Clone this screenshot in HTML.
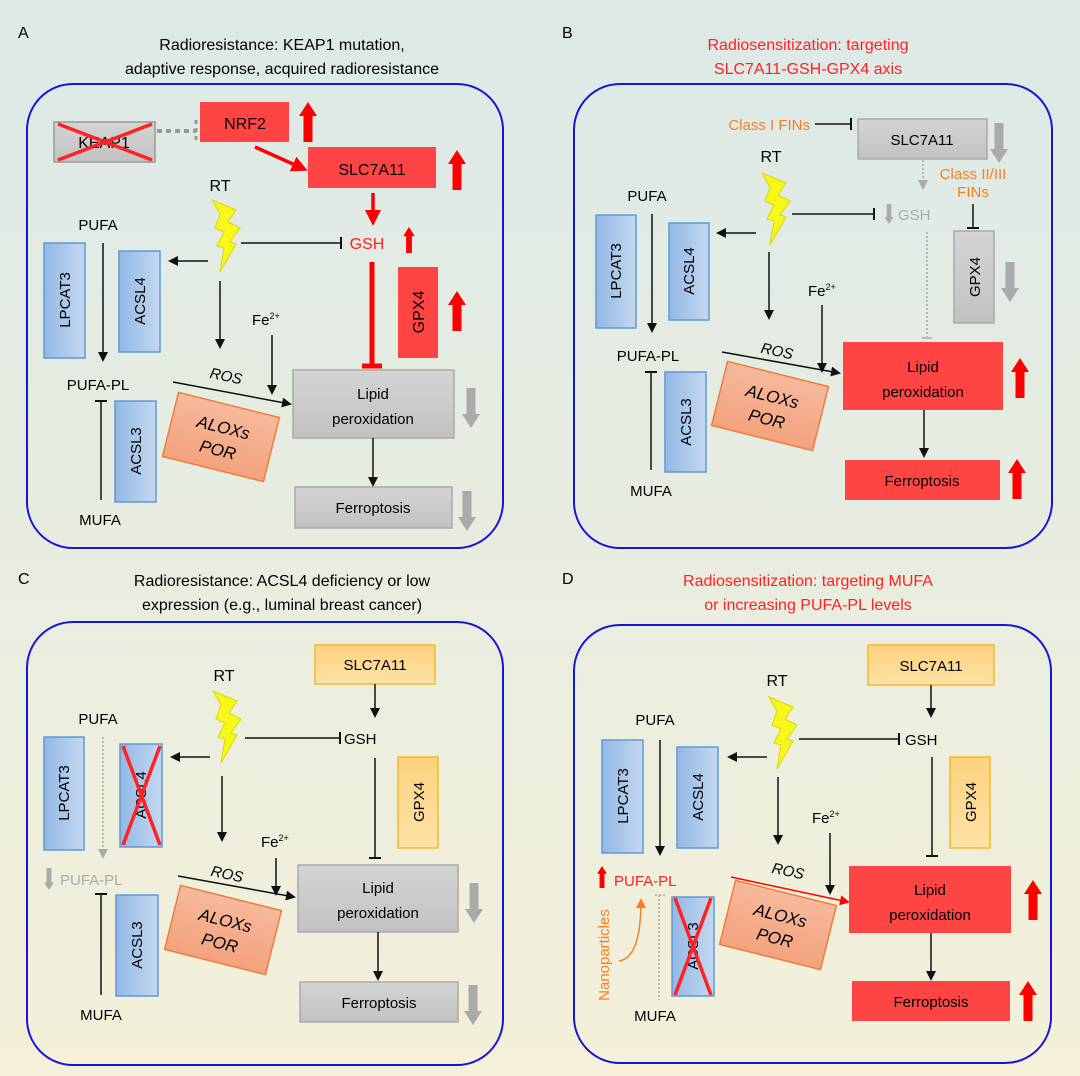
<!DOCTYPE html>
<html><head><meta charset="utf-8"><style>
html,body{margin:0;padding:0;width:1080px;height:1076px;overflow:hidden}
svg{display:block}
text{font-family:"Liberation Sans",sans-serif}
</style></head><body>
<svg width="1080" height="1076" viewBox="0 0 1080 1076" xmlns="http://www.w3.org/2000/svg">
<defs>
<linearGradient id="bg" x1="0" y1="0" x2="0" y2="1"><stop offset="0" stop-color="#dce9e7"/><stop offset="1" stop-color="#f4f0d9"/></linearGradient>
<linearGradient id="blue" x1="0" y1="0" x2="1" y2="0"><stop offset="0" stop-color="#93b8e4"/><stop offset="1" stop-color="#c3d8f0"/></linearGradient>
<linearGradient id="gray" x1="0" y1="0" x2="0" y2="1"><stop offset="0" stop-color="#d4d4d4"/><stop offset="1" stop-color="#c2c2c2"/></linearGradient>
<linearGradient id="org" x1="0" y1="0" x2="0" y2="1"><stop offset="0" stop-color="#fdd27e"/><stop offset="1" stop-color="#fde2a6"/></linearGradient>
<linearGradient id="salmon" x1="0" y1="0" x2="0" y2="1"><stop offset="0" stop-color="#f7b99c"/><stop offset="1" stop-color="#f3a27e"/></linearGradient>
<marker id="ak" markerWidth="10" markerHeight="10" refX="8" refY="5" orient="auto" markerUnits="userSpaceOnUse"><path d="M0,0 L10,5 L0,10 Z" fill="#111"/></marker>
<marker id="ar" markerWidth="10" markerHeight="10" refX="8" refY="5" orient="auto" markerUnits="userSpaceOnUse"><path d="M0,0 L10,5 L0,10 Z" fill="#f00"/></marker>
<marker id="arb" markerWidth="16" markerHeight="16" refX="12" refY="8" orient="auto" markerUnits="userSpaceOnUse"><path d="M0,0 L16,8 L0,16 Z" fill="#f00"/></marker>
<marker id="ag" markerWidth="10" markerHeight="10" refX="8" refY="5" orient="auto" markerUnits="userSpaceOnUse"><path d="M0,0 L10,5 L0,10 Z" fill="#aaa"/></marker>
<marker id="ao" markerWidth="10" markerHeight="10" refX="8" refY="5" orient="auto" markerUnits="userSpaceOnUse"><path d="M0,0 L10,5 L0,10 Z" fill="#f77f1f"/></marker>
<path id="up" d="M-4.5,0 L4.5,0 L4.5,-26 L9,-26 L0,-40 L-9,-26 L-4.5,-26Z"/>
<path id="bolt" d="M0,0 L24,10 L16,22 L28,28 L18,42 L24,44 L8,72 L12,48 L5,46 L12,32 L3,28 L8,14Z" fill="#f7f71a" stroke="#d9d900" stroke-width="1"/>
</defs>
<rect width="1080" height="1076" fill="url(#bg)"/>

<!-- ================= PANEL A ================= -->
<text x="18" y="38" font-size="16">A</text>
<text x="282" y="50" font-size="16" text-anchor="middle">Radioresistance: KEAP1 mutation,</text>
<text x="282" y="74" font-size="16" text-anchor="middle">adaptive response, acquired radioresistance</text>
<rect x="27" y="84" width="476" height="464" rx="46" fill="none" stroke="#1515d8" stroke-width="2"/>
<rect x="54" y="122" width="101" height="40" fill="url(#gray)" stroke="#999" stroke-width="1.5"/>
<text x="104" y="148" font-size="16" text-anchor="middle">KEAP1</text>
<path d="M58,124 L152,160 M58,160 L152,124" stroke="#f22" stroke-width="3.5"/>
<path d="M157,131 L196,131" stroke="#999" stroke-width="4" stroke-dasharray="5,4"/>
<path d="M196,120 L196,142" stroke="#999" stroke-width="3" stroke-dasharray="4,4"/>
<rect x="200" y="102" width="89" height="40" fill="#f44"/>
<text x="245" y="129" font-size="16" text-anchor="middle">NRF2</text>
<use href="#up" transform="translate(308,142)" fill="#f00"/>
<line x1="255" y1="147" x2="304" y2="169" stroke="#f00" stroke-width="3.5" marker-end="url(#arb)"/>
<rect x="308" y="147" width="128" height="41" fill="#f44"/>
<text x="372" y="175" font-size="16" text-anchor="middle">SLC7A11</text>
<use href="#up" transform="translate(457,190)" fill="#f00"/>
<text x="220" y="191" font-size="16" text-anchor="middle">RT</text>
<use href="#bolt" transform="translate(212,200)"/>
<line x1="373" y1="193" x2="373" y2="222" stroke="#f00" stroke-width="3.5" marker-end="url(#arb)"/>
<text x="367" y="249" font-size="16" text-anchor="middle" fill="#f22">GSH</text>
<use href="#up" transform="translate(409,253) scale(0.65)" fill="#f00"/>
<line x1="241" y1="243" x2="340" y2="243" stroke="#111" stroke-width="1.5"/>
<line x1="341" y1="237" x2="341" y2="249" stroke="#111" stroke-width="2"/>
<text x="98" y="230" font-size="15" text-anchor="middle">PUFA</text>
<rect x="44" y="243" width="41" height="115" fill="url(#blue)" stroke="#5b9bd5" stroke-width="1.5"/>
<text transform="translate(70,300) rotate(-90)" font-size="15" text-anchor="middle">LPCAT3</text>
<rect x="119" y="251" width="41" height="101" fill="url(#blue)" stroke="#5b9bd5" stroke-width="1.5"/>
<text transform="translate(145,301) rotate(-90)" font-size="15" text-anchor="middle">ACSL4</text>
<line x1="103" y1="243" x2="103" y2="360" stroke="#111" stroke-width="1.5" marker-end="url(#ak)"/>
<line x1="208" y1="261" x2="170" y2="261" stroke="#111" stroke-width="1.5" marker-end="url(#ak)"/>
<line x1="220" y1="281" x2="220" y2="347" stroke="#111" stroke-width="1.5" marker-end="url(#ak)"/>
<text x="252" y="325" font-size="15">Fe<tspan font-size="9" dy="-6">2+</tspan></text>
<line x1="272" y1="335" x2="272" y2="393" stroke="#111" stroke-width="1.5" marker-end="url(#ak)"/>
<line x1="372" y1="262" x2="372" y2="365" stroke="#f00" stroke-width="5"/>
<line x1="362" y1="366" x2="382" y2="366" stroke="#f00" stroke-width="5"/>
<rect x="398" y="267" width="40" height="91" fill="#f44"/>
<text transform="translate(424,312) rotate(-90)" font-size="16" text-anchor="middle">GPX4</text>
<use href="#up" transform="translate(457,331)" fill="#f00"/>
<text x="98" y="390" font-size="15" text-anchor="middle">PUFA-PL</text>
<text transform="translate(225,381) rotate(12)" font-size="15" font-style="italic" text-anchor="middle">ROS</text>
<line x1="173" y1="382" x2="290" y2="404" stroke="#111" stroke-width="1.5" marker-end="url(#ak)"/>
<g transform="translate(221,437) rotate(14)"><rect x="-52" y="-33" width="104" height="66" fill="url(#salmon)" stroke="#ee7d3a" stroke-width="1.5"/>
<text x="0" y="-4" font-size="17" font-style="italic" text-anchor="middle">ALOXs</text><text x="0" y="19" font-size="17" font-style="italic" text-anchor="middle">POR</text></g>
<rect x="293" y="370" width="161" height="68" fill="url(#gray)" stroke="#aaa" stroke-width="1.5"/>
<text x="373" y="399" font-size="15" text-anchor="middle">Lipid</text>
<text x="373" y="424" font-size="15" text-anchor="middle">peroxidation</text>
<use href="#up" transform="translate(471,388) rotate(180)" fill="#aaa"/>
<rect x="115" y="401" width="41" height="101" fill="url(#blue)" stroke="#5b9bd5" stroke-width="1.5"/>
<text transform="translate(141,451) rotate(-90)" font-size="15" text-anchor="middle">ACSL3</text>
<line x1="101" y1="401" x2="101" y2="500" stroke="#111" stroke-width="1.5"/>
<line x1="95" y1="401" x2="107" y2="401" stroke="#111" stroke-width="2"/>
<text x="100" y="525" font-size="15" text-anchor="middle">MUFA</text>
<line x1="373" y1="438" x2="373" y2="485" stroke="#111" stroke-width="1.5" marker-end="url(#ak)"/>
<rect x="295" y="487" width="157" height="41" fill="url(#gray)" stroke="#aaa" stroke-width="1.5"/>
<text x="373" y="513" font-size="15" text-anchor="middle">Ferroptosis</text>
<use href="#up" transform="translate(467,491) rotate(180)" fill="#aaa"/>

<!-- ================= PANEL B ================= -->
<text x="562" y="38" font-size="16">B</text>
<text x="808" y="50" font-size="16" text-anchor="middle" fill="#f22">Radiosensitization: targeting</text>
<text x="808" y="74" font-size="16" text-anchor="middle" fill="#f22">SLC7A11-GSH-GPX4 axis</text>
<rect x="574" y="84" width="478" height="464" rx="46" fill="none" stroke="#1515d8" stroke-width="2"/>
<text x="810" y="130" font-size="15" text-anchor="end" fill="#f77f1f">Class I FINs</text>
<line x1="815" y1="124" x2="850" y2="124" stroke="#111" stroke-width="1.5"/>
<line x1="851" y1="118" x2="851" y2="130" stroke="#111" stroke-width="2"/>
<rect x="858" y="119" width="129" height="40" fill="url(#gray)" stroke="#aaa" stroke-width="1.5"/>
<text x="922" y="145" font-size="15" text-anchor="middle">SLC7A11</text>
<use href="#up" transform="translate(999,123) rotate(180)" fill="#aaa"/>
<text x="771" y="162" font-size="16" text-anchor="middle">RT</text>
<use href="#bolt" transform="translate(762,173)"/>
<line x1="923" y1="160" x2="923" y2="188" stroke="#aaa" stroke-width="1.5" stroke-dasharray="2,2" marker-end="url(#ag)"/>
<text x="973" y="179" font-size="15" text-anchor="middle" fill="#f77f1f">Class II/III</text>
<text x="973" y="197" font-size="15" text-anchor="middle" fill="#f77f1f">FINs</text>
<line x1="973" y1="204" x2="973" y2="227" stroke="#111" stroke-width="1.5"/>
<line x1="967" y1="228" x2="979" y2="228" stroke="#111" stroke-width="2"/>
<line x1="792" y1="214" x2="873" y2="214" stroke="#111" stroke-width="1.5"/>
<line x1="874" y1="208" x2="874" y2="220" stroke="#111" stroke-width="2"/>
<use href="#up" transform="translate(889,204) rotate(180) scale(0.5)" fill="#aaa"/>
<text x="898" y="220" font-size="15" fill="#aaa">GSH</text>
<text x="647" y="201" font-size="15" text-anchor="middle">PUFA</text>
<rect x="596" y="215" width="40" height="113" fill="url(#blue)" stroke="#5b9bd5" stroke-width="1.5"/>
<text transform="translate(621,271) rotate(-90)" font-size="15" text-anchor="middle">LPCAT3</text>
<rect x="669" y="223" width="40" height="97" fill="url(#blue)" stroke="#5b9bd5" stroke-width="1.5"/>
<text transform="translate(694,271) rotate(-90)" font-size="15" text-anchor="middle">ACSL4</text>
<line x1="652" y1="214" x2="652" y2="331" stroke="#111" stroke-width="1.5" marker-end="url(#ak)"/>
<line x1="756" y1="233" x2="718" y2="233" stroke="#111" stroke-width="1.5" marker-end="url(#ak)"/>
<line x1="769" y1="252" x2="769" y2="318" stroke="#111" stroke-width="1.5" marker-end="url(#ak)"/>
<text x="808" y="296" font-size="15">Fe<tspan font-size="9" dy="-6">2+</tspan></text>
<line x1="822" y1="305" x2="822" y2="371" stroke="#111" stroke-width="1.5" marker-end="url(#ak)"/>
<line x1="927" y1="232" x2="927" y2="337" stroke="#aaa" stroke-width="1.5" stroke-dasharray="2,2"/>
<line x1="922" y1="338" x2="932" y2="338" stroke="#aaa" stroke-width="1.5"/>
<rect x="954" y="231" width="40" height="92" fill="url(#gray)" stroke="#aaa" stroke-width="1.5"/>
<text transform="translate(980,277) rotate(-90)" font-size="15" text-anchor="middle">GPX4</text>
<use href="#up" transform="translate(1010,262) rotate(180)" fill="#aaa"/>
<text x="648" y="361" font-size="15" text-anchor="middle">PUFA-PL</text>
<text transform="translate(776,356) rotate(12)" font-size="15" font-style="italic" text-anchor="middle">ROS</text>
<line x1="722" y1="352" x2="839" y2="373" stroke="#111" stroke-width="1.5" marker-end="url(#ak)"/>
<g transform="translate(770,406) rotate(14)"><rect x="-52" y="-33" width="104" height="66" fill="url(#salmon)" stroke="#ee7d3a" stroke-width="1.5"/>
<text x="0" y="-4" font-size="17" font-style="italic" text-anchor="middle">ALOXs</text><text x="0" y="19" font-size="17" font-style="italic" text-anchor="middle">POR</text></g>
<rect x="843" y="342" width="160" height="68" fill="#f44"/>
<text x="923" y="372" font-size="15" text-anchor="middle">Lipid</text>
<text x="923" y="397" font-size="15" text-anchor="middle">peroxidation</text>
<use href="#up" transform="translate(1020,398)" fill="#f00"/>
<rect x="665" y="372" width="41" height="100" fill="url(#blue)" stroke="#5b9bd5" stroke-width="1.5"/>
<text transform="translate(691,422) rotate(-90)" font-size="15" text-anchor="middle">ACSL3</text>
<line x1="651" y1="372" x2="651" y2="470" stroke="#111" stroke-width="1.5"/>
<line x1="645" y1="372" x2="657" y2="372" stroke="#111" stroke-width="2"/>
<text x="651" y="496" font-size="15" text-anchor="middle">MUFA</text>
<line x1="924" y1="410" x2="924" y2="456" stroke="#111" stroke-width="1.5" marker-end="url(#ak)"/>
<rect x="845" y="460" width="155" height="40" fill="#f44"/>
<text x="922" y="486" font-size="15" text-anchor="middle">Ferroptosis</text>
<use href="#up" transform="translate(1017,499)" fill="#f00"/>

<!-- ================= PANEL C ================= -->
<text x="18" y="584" font-size="16">C</text>
<text x="282" y="586" font-size="16" text-anchor="middle">Radioresistance: ACSL4 deficiency or low</text>
<text x="282" y="610" font-size="16" text-anchor="middle">expression (e.g., luminal breast cancer)</text>
<rect x="27" y="622" width="476" height="443" rx="46" fill="none" stroke="#1515d8" stroke-width="2"/>
<rect x="315" y="645" width="120" height="39" fill="url(#org)" stroke="#f5b82a" stroke-width="1.5"/>
<text x="375" y="670" font-size="15" text-anchor="middle">SLC7A11</text>
<line x1="375" y1="684" x2="375" y2="716" stroke="#111" stroke-width="1.5" marker-end="url(#ak)"/>
<text x="224" y="681" font-size="16" text-anchor="middle">RT</text>
<use href="#bolt" transform="translate(213,691)"/>
<line x1="245" y1="738" x2="339" y2="738" stroke="#111" stroke-width="1.5"/>
<line x1="340" y1="732" x2="340" y2="744" stroke="#111" stroke-width="2"/>
<text x="344" y="744" font-size="15">GSH</text>
<text x="98" y="724" font-size="15" text-anchor="middle">PUFA</text>
<rect x="44" y="737" width="40" height="113" fill="url(#blue)" stroke="#5b9bd5" stroke-width="1.5"/>
<text transform="translate(69,793) rotate(-90)" font-size="15" text-anchor="middle">LPCAT3</text>
<rect x="120" y="744" width="42" height="103" fill="url(#blue)" stroke="#5b9bd5" stroke-width="1.5"/>
<text transform="translate(146,795) rotate(-90)" font-size="15" text-anchor="middle">ACSL4</text>
<path d="M123,746 L160,845 M160,746 L123,845" stroke="#f22" stroke-width="3.5"/>
<line x1="103" y1="737" x2="103" y2="857" stroke="#aaa" stroke-width="1.5" stroke-dasharray="2,2" marker-end="url(#ag)"/>
<line x1="210" y1="757" x2="172" y2="757" stroke="#111" stroke-width="1.5" marker-end="url(#ak)"/>
<line x1="222" y1="776" x2="222" y2="840" stroke="#111" stroke-width="1.5" marker-end="url(#ak)"/>
<text x="261" y="847" font-size="15">Fe<tspan font-size="9" dy="-6">2+</tspan></text>
<line x1="276" y1="858" x2="276" y2="894" stroke="#111" stroke-width="1.5" marker-end="url(#ak)"/>
<rect x="398" y="757" width="40" height="91" fill="url(#org)" stroke="#f5b82a" stroke-width="1.5"/>
<text transform="translate(424,802) rotate(-90)" font-size="15" text-anchor="middle">GPX4</text>
<line x1="375" y1="758" x2="375" y2="857" stroke="#111" stroke-width="1.5"/>
<line x1="369" y1="858" x2="381" y2="858" stroke="#111" stroke-width="2"/>
<use href="#up" transform="translate(49,868) rotate(180) scale(0.55)" fill="#aaa"/>
<text x="60" y="885" font-size="15" fill="#aaa">PUFA-PL</text>
<text transform="translate(226,879) rotate(12)" font-size="15" font-style="italic" text-anchor="middle">ROS</text>
<line x1="178" y1="876" x2="294" y2="897" stroke="#111" stroke-width="1.5" marker-end="url(#ak)"/>
<g transform="translate(223,930) rotate(14)"><rect x="-52" y="-33" width="104" height="66" fill="url(#salmon)" stroke="#ee7d3a" stroke-width="1.5"/>
<text x="0" y="-4" font-size="17" font-style="italic" text-anchor="middle">ALOXs</text><text x="0" y="19" font-size="17" font-style="italic" text-anchor="middle">POR</text></g>
<rect x="298" y="865" width="160" height="67" fill="url(#gray)" stroke="#aaa" stroke-width="1.5"/>
<text x="378" y="893" font-size="15" text-anchor="middle">Lipid</text>
<text x="378" y="918" font-size="15" text-anchor="middle">peroxidation</text>
<use href="#up" transform="translate(474,883) rotate(180)" fill="#aaa"/>
<rect x="116" y="895" width="42" height="101" fill="url(#blue)" stroke="#5b9bd5" stroke-width="1.5"/>
<text transform="translate(142,945) rotate(-90)" font-size="15" text-anchor="middle">ACSL3</text>
<line x1="101" y1="894" x2="101" y2="995" stroke="#111" stroke-width="1.5"/>
<line x1="95" y1="894" x2="107" y2="894" stroke="#111" stroke-width="2"/>
<text x="101" y="1020" font-size="15" text-anchor="middle">MUFA</text>
<line x1="378" y1="932" x2="378" y2="979" stroke="#111" stroke-width="1.5" marker-end="url(#ak)"/>
<rect x="300" y="982" width="158" height="40" fill="url(#gray)" stroke="#aaa" stroke-width="1.5"/>
<text x="379" y="1008" font-size="15" text-anchor="middle">Ferroptosis</text>
<use href="#up" transform="translate(473,985) rotate(180)" fill="#aaa"/>

<!-- ================= PANEL D ================= -->
<text x="562" y="584" font-size="16">D</text>
<text x="808" y="586" font-size="16" text-anchor="middle" fill="#f22">Radiosensitization: targeting MUFA</text>
<text x="808" y="610" font-size="16" text-anchor="middle" fill="#f22">or increasing PUFA-PL levels</text>
<rect x="574" y="625" width="477" height="438" rx="46" fill="none" stroke="#1515d8" stroke-width="2"/>
<rect x="868" y="645" width="126" height="40" fill="url(#org)" stroke="#f5b82a" stroke-width="1.5"/>
<text x="931" y="671" font-size="15" text-anchor="middle">SLC7A11</text>
<line x1="931" y1="685" x2="931" y2="716" stroke="#111" stroke-width="1.5" marker-end="url(#ak)"/>
<text x="777" y="686" font-size="16" text-anchor="middle">RT</text>
<use href="#bolt" transform="translate(769,697)"/>
<line x1="799" y1="739" x2="898" y2="739" stroke="#111" stroke-width="1.5"/>
<line x1="899" y1="733" x2="899" y2="745" stroke="#111" stroke-width="2"/>
<text x="905" y="745" font-size="15">GSH</text>
<text x="655" y="725" font-size="15" text-anchor="middle">PUFA</text>
<rect x="602" y="740" width="41" height="113" fill="url(#blue)" stroke="#5b9bd5" stroke-width="1.5"/>
<text transform="translate(628,796) rotate(-90)" font-size="15" text-anchor="middle">LPCAT3</text>
<rect x="677" y="747" width="41" height="101" fill="url(#blue)" stroke="#5b9bd5" stroke-width="1.5"/>
<text transform="translate(703,797) rotate(-90)" font-size="15" text-anchor="middle">ACSL4</text>
<line x1="660" y1="740" x2="660" y2="854" stroke="#111" stroke-width="1.5" marker-end="url(#ak)"/>
<line x1="767" y1="757" x2="729" y2="757" stroke="#111" stroke-width="1.5" marker-end="url(#ak)"/>
<line x1="778" y1="777" x2="778" y2="843" stroke="#111" stroke-width="1.5" marker-end="url(#ak)"/>
<text x="812" y="823" font-size="15">Fe<tspan font-size="9" dy="-6">2+</tspan></text>
<line x1="830" y1="833" x2="830" y2="893" stroke="#111" stroke-width="1.5" marker-end="url(#ak)"/>
<line x1="932" y1="757" x2="932" y2="855" stroke="#111" stroke-width="1.5"/>
<line x1="926" y1="856" x2="938" y2="856" stroke="#111" stroke-width="2"/>
<rect x="950" y="757" width="40" height="91" fill="url(#org)" stroke="#f5b82a" stroke-width="1.5"/>
<text transform="translate(976,802) rotate(-90)" font-size="15" text-anchor="middle">GPX4</text>
<use href="#up" transform="translate(602,888) scale(0.55)" fill="#f00"/>
<text x="614" y="886" font-size="15" fill="#f22">PUFA-PL</text>
<text transform="translate(787,876) rotate(12)" font-size="15" font-style="italic" text-anchor="middle">ROS</text>
<line x1="731" y1="877" x2="848" y2="902" stroke="#f00" stroke-width="1.5" marker-end="url(#ar)"/>
<g transform="translate(778,925) rotate(14)"><rect x="-52" y="-33" width="104" height="66" fill="url(#salmon)" stroke="#ee7d3a" stroke-width="1.5"/>
<text x="0" y="-4" font-size="17" font-style="italic" text-anchor="middle">ALOXs</text><text x="0" y="19" font-size="17" font-style="italic" text-anchor="middle">POR</text></g>
<rect x="849" y="866" width="162" height="67" fill="#f44"/>
<text x="930" y="895" font-size="15" text-anchor="middle">Lipid</text>
<text x="930" y="920" font-size="15" text-anchor="middle">peroxidation</text>
<use href="#up" transform="translate(1033,920)" fill="#f00"/>
<text transform="translate(609,955) rotate(-90)" font-size="15" text-anchor="middle" fill="#f77f1f">Nanoparticles</text>
<path d="M619,961 Q641,958 641,900" fill="none" stroke="#f77f1f" stroke-width="1.5" marker-end="url(#ao)"/>
<line x1="659" y1="895" x2="659" y2="1000" stroke="#aaa" stroke-width="1.5" stroke-dasharray="2,2"/>
<line x1="655" y1="895" x2="665" y2="895" stroke="#aaa" stroke-width="1.5" stroke-dasharray="2,2"/>
<rect x="672" y="897" width="42" height="99" fill="url(#blue)" stroke="#5b9bd5" stroke-width="1.5"/>
<text transform="translate(698,946) rotate(-90)" font-size="15" text-anchor="middle">ACSL3</text>
<path d="M675,898 L711,995 M711,898 L675,995" stroke="#f22" stroke-width="3.5"/>
<text x="655" y="1021" font-size="15" text-anchor="middle">MUFA</text>
<line x1="931" y1="933" x2="931" y2="979" stroke="#111" stroke-width="1.5" marker-end="url(#ak)"/>
<rect x="852" y="981" width="158" height="40" fill="#f44"/>
<text x="931" y="1007" font-size="15" text-anchor="middle">Ferroptosis</text>
<use href="#up" transform="translate(1028,1021)" fill="#f00"/>
</svg>
</body></html>
